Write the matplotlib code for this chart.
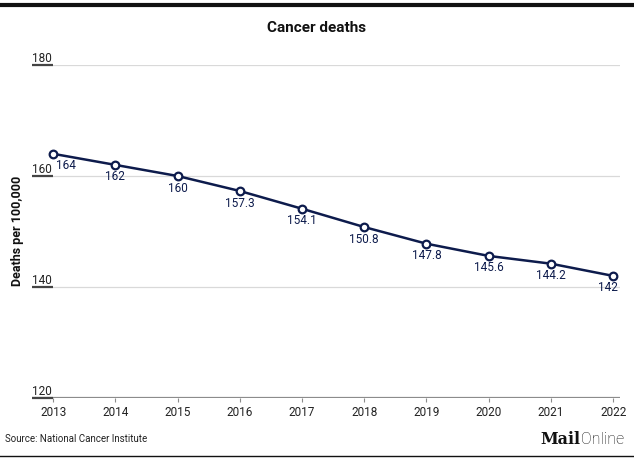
import matplotlib.pyplot as plt
from matplotlib.lines import Line2D
import matplotlib.transforms as mtransforms

plt.rcParams["font.family"] = ["Roboto", "DejaVu Sans"]

years = [2013, 2014, 2015, 2016, 2017, 2018, 2019, 2020, 2021, 2022]
deaths = [164, 162, 160, 157.3, 154.1, 150.8, 147.8, 145.6, 144.2, 142]
labels = ["164", "162", "160", "157.3", "154.1", "150.8", "147.8", "145.6", "144.2", "142"]
y_ticks = [120, 140, 160, 180]

NAVY = "#0d1b4c"

fig = plt.figure(figsize=(6.34, 4.59), dpi=100)
W, H = 634, 459

ax = fig.add_axes([32 / W, 1 - 398 / H, (620 - 32) / W, (398 - 65) / H])
ax.set_xlim(2012.66, 2022.11)
ax.set_ylim(120, 180)

for spine in ax.spines.values():
    spine.set_visible(False)

# gridlines
for t in y_ticks:
    color = "#8c8c8c" if t == 120 else "#d9d9d9"
    lw = 1.6 if t == 120 else 0.9
    ax.axhline(t, color=color, lw=lw, zorder=1)

# y tick labels sitting on the gridlines, with a short dark underline
trans = mtransforms.blended_transform_factory(ax.transAxes, ax.transData)
for t in y_ticks:
    ax.annotate(str(t), (0.0, t), xycoords=trans, xytext=(0, 2),
                textcoords="offset points", ha="left", va="baseline",
                fontsize=8.5, color="#222222")
    ax.plot([0.0, 21 / 588], [t, t], transform=trans, color="#444444",
            lw=1.6, solid_capstyle="butt", zorder=2, clip_on=False)

ax.set_yticks([])
ax.set_xticks(years)
ax.set_xticklabels([str(y) for y in years], fontsize=8.5, color="#222222")
ax.tick_params(axis="x", length=3, width=0.8, color="#8c8c8c", pad=3)

ax.plot(years, deaths, color=NAVY, lw=1.8, marker="o", markersize=5.5,
        markerfacecolor="white", markeredgecolor=NAVY, markeredgewidth=1.6,
        zorder=3, clip_on=False)

for i, (x, y, lab) in enumerate(zip(years, deaths, labels)):
    if i == 0:
        ax.annotate(lab, (x, y), xytext=(2, -4), textcoords="offset points",
                    ha="left", va="top", fontsize=8.5, color=NAVY)
    elif i == len(years) - 1:
        ax.annotate(lab, (x, y), xytext=(-4, -4), textcoords="offset points",
                    ha="center", va="top", fontsize=8.5, color=NAVY)
    else:
        ax.annotate(lab, (x, y), xytext=(0, -4), textcoords="offset points",
                    ha="center", va="top", fontsize=8.5, color=NAVY)

fig.text(18 / W, 1 - 231 / H, "Deaths per 100,000", rotation=90,
         ha="center", va="center", fontsize=9, fontweight="bold", color="#111111")

fig.text(0.5, 1 - 28 / H, "Cancer deaths", ha="center", va="center",
         fontsize=11, fontweight="bold", color="#111111")

fig.text(5 / W, 1 - 439 / H, "Source: National Cancer Institute", ha="left",
         va="center", fontsize=7, color="#222222")

fig.text(580 / W, 1 - 439 / H, "Mail", ha="right", va="center", fontsize=11.5,
         fontweight="bold", family="DejaVu Serif", color="#111111")
fig.text(581 / W, 1 - 439 / H, "Online", ha="left", va="center", fontsize=11.5,
         fontweight="light", color="#111111")

# top and bottom rules
fig.add_artist(Line2D([0, 1], [1 - 4.5 / H, 1 - 4.5 / H], color="#111111",
                      lw=3, transform=fig.transFigure))
fig.add_artist(Line2D([0, 1], [1 - 456 / H, 1 - 456 / H], color="#111111",
                      lw=1, transform=fig.transFigure))

fig.savefig("out.png", dpi=100)
